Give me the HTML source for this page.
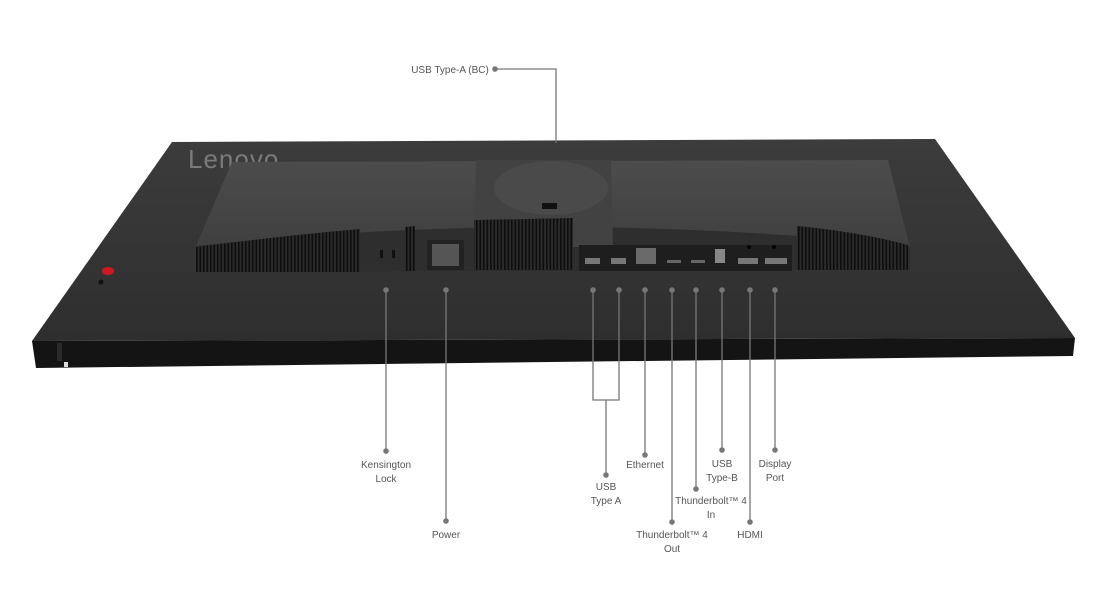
<!DOCTYPE html>
<html><head><meta charset="utf-8"><style>
html,body{margin:0;padding:0;background:#fff;}
svg{display:block}
text{font-family:"Liberation Sans",sans-serif;font-size:10px;fill:#555;}
</style></head><body>
<svg width="1100" height="616" viewBox="0 0 1100 616" xmlns="http://www.w3.org/2000/svg">
<defs>
<linearGradient id="top" x1="0" y1="0" x2="0" y2="1">
<stop offset="0" stop-color="#3c3c3c"/><stop offset="1" stop-color="#2e2e2e"/></linearGradient>
<linearGradient id="hous" x1="0" y1="0" x2="0" y2="1">
<stop offset="0" stop-color="#4c4c4c"/><stop offset="1" stop-color="#3c3c3c"/></linearGradient>
<pattern id="vent" width="3.5" height="10" patternUnits="userSpaceOnUse">
<rect width="3.5" height="10" fill="#2a2a2a"/><rect x="0" width="1.6" height="10" fill="#0e0e0e"/></pattern>
</defs>
<polygon points="172,142 935,139 1075,338 32,341" fill="url(#top)"/>
<polygon points="32,341 1075,338 1073,356 36,368" fill="#141414"/>
<rect x="57" y="343" width="5" height="18" fill="#2a2a2a"/>
<rect x="64" y="362" width="4" height="5" fill="#ddd"/>
<text x="188" y="168" style="font-size:26px;fill:#7a7a7a;letter-spacing:1px">Lenovo</text>
<text x="787" y="176" style="font-size:9px;fill:#8a6a6a;font-weight:bold">ThinkVision</text>
<ellipse cx="108" cy="271" rx="6" ry="4" fill="#d01820"/>
<circle cx="101" cy="282" r="2.5" fill="#111"/>
<path d="M232,162 L888,160 L910,248 L910,270 L196,272 L196,246 Z" fill="url(#hous)"/>
<path d="M196,246 Q550,208 910,246 L910,270 L196,272 Z" fill="#2e2e2e"/>
<polygon points="476,160 611,160 613,247 474,247" fill="#424242"/>
<ellipse cx="551" cy="188" rx="57" ry="27" fill="#4a4a4a"/>
<rect x="542" y="203" width="15" height="6" fill="#111"/>
<path d="M196,247 Q280,236 360,229 L360,272 L196,272 Z" fill="url(#vent)"/>
<path d="M405,227 L415,226 L415,271 L405,271 Z" fill="url(#vent)"/>
<path d="M474,220 L573,218 L573,270 L474,270 Z" fill="url(#vent)"/>
<path d="M797,226 Q860,232 908,245 L908,270 L797,270 Z" fill="url(#vent)"/>
<rect x="380" y="250" width="3" height="8" fill="#111"/><rect x="392" y="250" width="3" height="8" fill="#111"/>
<rect x="427" y="240" width="37" height="30" fill="#222"/><rect x="432" y="244" width="27" height="22" fill="#555"/>
<rect x="579" y="245" width="213" height="26" fill="#1e1e1e"/>
<rect x="585" y="258" width="15" height="6" fill="#777"/>
<rect x="611" y="258" width="15" height="6" fill="#777"/>
<rect x="636" y="248" width="20" height="16" fill="#6a6a6a"/>
<rect x="667" y="260" width="14" height="3" fill="#666"/>
<rect x="691" y="260" width="14" height="3" fill="#666"/>
<rect x="715" y="249" width="10" height="14" fill="#888"/>
<rect x="738" y="258" width="20" height="6" fill="#777"/>
<rect x="765" y="258" width="22" height="6" fill="#777"/>
<circle cx="749" cy="247" r="2" fill="#000"/><circle cx="774" cy="247" r="2" fill="#000"/>
<g stroke="#777" stroke-width="1.3" fill="none">
<polyline points="495,69 556,69 556,143"/>
<line x1="386" y1="290" x2="386" y2="451"/>
<line x1="446" y1="290" x2="446" y2="521"/>
<polyline points="593,290 593,400 619,400 619,290"/>
<line x1="606" y1="400" x2="606" y2="475"/>
<line x1="645" y1="290" x2="645" y2="455"/>
<line x1="672" y1="290" x2="672" y2="522"/>
<line x1="696" y1="290" x2="696" y2="489"/>
<line x1="722" y1="290" x2="722" y2="450"/>
<line x1="750" y1="290" x2="750" y2="522"/>
<line x1="775" y1="290" x2="775" y2="450"/>
</g>
<g fill="#777">
<circle cx="495" cy="69" r="2.8"/>
<circle cx="386" cy="290" r="2.8"/><circle cx="446" cy="290" r="2.8"/><circle cx="593" cy="290" r="2.8"/><circle cx="619" cy="290" r="2.8"/><circle cx="645" cy="290" r="2.8"/><circle cx="672" cy="290" r="2.8"/><circle cx="696" cy="290" r="2.8"/><circle cx="722" cy="290" r="2.8"/><circle cx="750" cy="290" r="2.8"/><circle cx="775" cy="290" r="2.8"/>
<circle cx="386" cy="451" r="2.8"/><circle cx="446" cy="521" r="2.8"/><circle cx="606" cy="475" r="2.8"/><circle cx="645" cy="455" r="2.8"/><circle cx="672" cy="522" r="2.8"/><circle cx="696" cy="489" r="2.8"/><circle cx="722" cy="450" r="2.8"/><circle cx="750" cy="522" r="2.8"/><circle cx="775" cy="450" r="2.8"/>
</g>
<g text-anchor="middle">
<text x="450" y="73" text-anchor="middle">USB Type-A (BC)</text>
<text x="386" y="468">Kensington</text><text x="386" y="482">Lock</text>
<text x="446" y="538">Power</text>
<text x="606" y="490">USB</text><text x="606" y="504">Type A</text>
<text x="645" y="468">Ethernet</text>
<text x="672" y="538">Thunderbolt™ 4</text><text x="672" y="552">Out</text>
<text x="711" y="504">Thunderbolt™ 4</text><text x="711" y="518">In</text>
<text x="722" y="467">USB</text><text x="722" y="481">Type-B</text>
<text x="750" y="538">HDMI</text>
<text x="775" y="467">Display</text><text x="775" y="481">Port</text>
</g>
</svg>
</body></html>
